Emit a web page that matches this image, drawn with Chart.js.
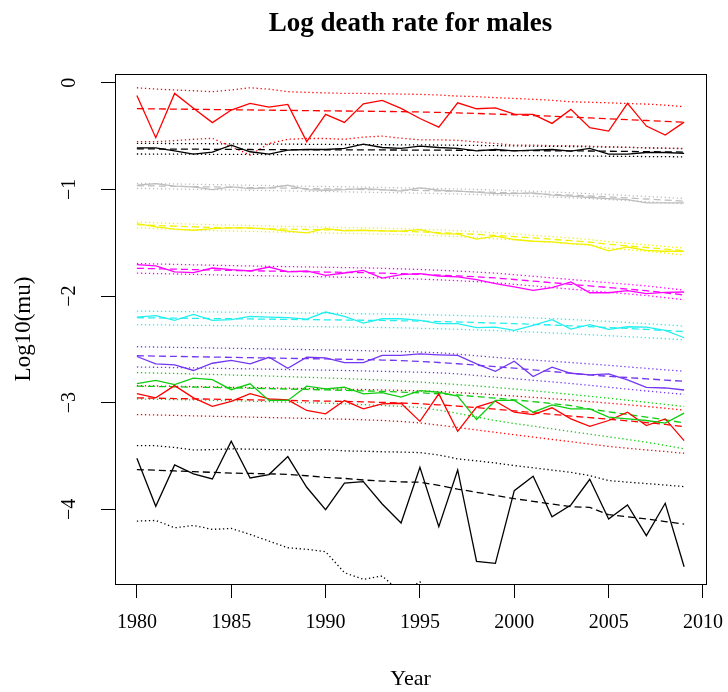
<!DOCTYPE html>
<html>
<head>
<meta charset="utf-8">
<title>Log death rate for males</title>
<script src="https://cdn.jsdelivr.net/npm/chart.js@4.4.0/dist/chart.umd.min.js"></script>
<style>
  html, body { margin: 0; padding: 0; background: #fff; }
  #chart { display: block; }
</style>
</head>
<body>
<canvas id="chart" width="728" height="692"></canvas>
<script>
'use strict';

/* --- Data --- */
const years = [1980, 1981, 1982, 1983, 1984, 1985, 1986, 1987, 1988, 1989,
  1990, 1991, 1992, 1993, 1994, 1995, 1996, 1997, 1998, 1999,
  2000, 2001, 2002, 2003, 2004, 2005, 2006, 2007, 2008, 2009];
const xTicks = [1980, 1985, 1990, 1995, 2000, 2005, 2010];
const yTicks = [0, -1, -2, -3, -4];

// top red group
const redTopObs = [-0.12, -0.515, -0.10, -0.24, -0.374, -0.256, -0.193, -0.228, -0.203, -0.552, -0.297, -0.372, -0.197, -0.165, -0.24, -0.335, -0.416, -0.188, -0.244, -0.235, -0.294, -0.297, -0.381, -0.25, -0.422, -0.453, -0.194, -0.406, -0.491, -0.369];
const redTopFit = [-0.243, -0.245, -0.247, -0.249, -0.251, -0.253, -0.255, -0.257, -0.259, -0.261, -0.263, -0.265, -0.267, -0.269, -0.271, -0.274, -0.278, -0.283, -0.288, -0.294, -0.300, -0.307, -0.314, -0.322, -0.330, -0.338, -0.346, -0.354, -0.362, -0.370];
const redTopHi = [-0.047, -0.059, -0.068, -0.075, -0.084, -0.068, -0.047, -0.06, -0.084, -0.09, -0.095, -0.10, -0.10, -0.103, -0.106, -0.109, -0.115, -0.125, -0.13, -0.14, -0.147, -0.155, -0.165, -0.178, -0.183, -0.188, -0.195, -0.20, -0.21, -0.225];
const redTopLo = [-0.552, -0.552, -0.543, -0.53, -0.521, -0.60, -0.677, -0.57, -0.53, -0.523, -0.523, -0.53, -0.51, -0.50, -0.52, -0.535, -0.535, -0.54, -0.555, -0.57, -0.585, -0.585, -0.59, -0.59, -0.595, -0.60, -0.605, -0.61, -0.615, -0.615];

// top black group
const blackTopObs = [-0.61, -0.61, -0.638, -0.67, -0.65, -0.585, -0.647, -0.67, -0.632, -0.626, -0.626, -0.616, -0.576, -0.607, -0.616, -0.594, -0.607, -0.616, -0.638, -0.626, -0.638, -0.632, -0.626, -0.641, -0.616, -0.67, -0.67, -0.654, -0.654, -0.663];
const blackTopFit = [-0.62, -0.621, -0.622, -0.623, -0.624, -0.625, -0.626, -0.627, -0.628, -0.628, -0.629, -0.629, -0.63, -0.63, -0.631, -0.631, -0.632, -0.633, -0.634, -0.635, -0.636, -0.637, -0.638, -0.639, -0.64, -0.642, -0.644, -0.646, -0.648, -0.65];
const blackTopHi = [-0.568, -0.569, -0.57, -0.571, -0.572, -0.573, -0.574, -0.575, -0.576, -0.577, -0.578, -0.579, -0.58, -0.581, -0.582, -0.583, -0.584, -0.586, -0.588, -0.59, -0.592, -0.594, -0.596, -0.598, -0.6, -0.603, -0.606, -0.61, -0.614, -0.618];
const blackTopLo = [-0.668, -0.669, -0.67, -0.67, -0.671, -0.672, -0.672, -0.673, -0.674, -0.674, -0.675, -0.676, -0.676, -0.677, -0.678, -0.678, -0.679, -0.68, -0.681, -0.682, -0.683, -0.684, -0.685, -0.686, -0.687, -0.689, -0.69, -0.692, -0.693, -0.695];

// gray group
const grayObs = [-0.961, -0.945, -0.97, -0.976, -1.002, -0.976, -0.992, -0.986, -0.961, -1.002, -1.008, -1.002, -0.992, -1.002, -1.017, -0.986, -1.008, -1.017, -1.026, -1.039, -1.039, -1.033, -1.054, -1.064, -1.076, -1.086, -1.095, -1.127, -1.127, -1.127];
const grayFit = [-0.965, -0.968, -0.971, -0.974, -0.977, -0.98, -0.983, -0.986, -0.989, -0.992, -0.995, -0.998, -1.001, -1.004, -1.007, -1.01, -1.014, -1.018, -1.023, -1.028, -1.034, -1.04, -1.047, -1.054, -1.062, -1.07, -1.08, -1.09, -1.10, -1.11];
const grayHi = [-0.943, -0.946, -0.949, -0.952, -0.955, -0.958, -0.961, -0.964, -0.967, -0.97, -0.973, -0.976, -0.979, -0.982, -0.985, -0.988, -0.992, -0.996, -1.001, -1.006, -1.012, -1.018, -1.025, -1.032, -1.04, -1.048, -1.057, -1.066, -1.075, -1.085];
const grayLo = [-0.99, -0.993, -0.996, -0.999, -1.002, -1.005, -1.008, -1.011, -1.014, -1.017, -1.02, -1.023, -1.026, -1.029, -1.032, -1.035, -1.039, -1.043, -1.048, -1.053, -1.059, -1.065, -1.072, -1.079, -1.087, -1.095, -1.105, -1.115, -1.125, -1.135];

// yellow group
const yellowObs = [-1.32, -1.351, -1.373, -1.383, -1.367, -1.361, -1.361, -1.373, -1.392, -1.408, -1.367, -1.389, -1.383, -1.389, -1.392, -1.377, -1.414, -1.42, -1.467, -1.439, -1.47, -1.486, -1.492, -1.508, -1.517, -1.577, -1.54, -1.571, -1.58, -1.58];
const yellowFit = [-1.33, -1.338, -1.345, -1.351, -1.356, -1.36, -1.364, -1.368, -1.372, -1.376, -1.379, -1.382, -1.385, -1.389, -1.393, -1.398, -1.405, -1.413, -1.422, -1.432, -1.443, -1.455, -1.468, -1.481, -1.495, -1.515, -1.53, -1.545, -1.56, -1.575];
const yellowHi = [-1.305, -1.313, -1.32, -1.326, -1.331, -1.335, -1.339, -1.343, -1.347, -1.351, -1.354, -1.357, -1.36, -1.364, -1.368, -1.373, -1.38, -1.388, -1.397, -1.407, -1.418, -1.43, -1.443, -1.456, -1.47, -1.49, -1.505, -1.52, -1.535, -1.55];
const yellowLo = [-1.36, -1.368, -1.375, -1.381, -1.386, -1.39, -1.394, -1.398, -1.402, -1.406, -1.409, -1.412, -1.415, -1.419, -1.423, -1.428, -1.435, -1.443, -1.452, -1.462, -1.473, -1.485, -1.498, -1.511, -1.525, -1.55, -1.565, -1.58, -1.597, -1.615];

// magenta group
const magentaObs = [-1.706, -1.718, -1.774, -1.781, -1.737, -1.753, -1.765, -1.728, -1.774, -1.765, -1.806, -1.784, -1.759, -1.831, -1.80, -1.79, -1.812, -1.821, -1.846, -1.884, -1.915, -1.947, -1.922, -1.868, -1.969, -1.969, -1.95, -1.978, -1.965, -1.962];
const magentaFit = [-1.74, -1.744, -1.748, -1.752, -1.756, -1.76, -1.763, -1.766, -1.769, -1.772, -1.775, -1.778, -1.781, -1.785, -1.79, -1.796, -1.803, -1.811, -1.82, -1.83, -1.845, -1.86, -1.875, -1.89, -1.905, -1.92, -1.935, -1.95, -1.97, -1.99];
const magentaHi = [-1.695, -1.699, -1.703, -1.707, -1.711, -1.715, -1.718, -1.721, -1.724, -1.727, -1.73, -1.733, -1.736, -1.74, -1.745, -1.751, -1.758, -1.766, -1.775, -1.785, -1.8, -1.815, -1.83, -1.845, -1.86, -1.875, -1.89, -1.905, -1.925, -1.945];
const magentaLo = [-1.785, -1.789, -1.793, -1.797, -1.801, -1.805, -1.808, -1.811, -1.814, -1.817, -1.82, -1.823, -1.826, -1.83, -1.835, -1.841, -1.848, -1.856, -1.865, -1.875, -1.89, -1.905, -1.92, -1.935, -1.95, -1.965, -1.98, -1.995, -2.015, -2.035];

// cyan group
const cyanObs = [-2.197, -2.184, -2.228, -2.172, -2.228, -2.222, -2.19, -2.197, -2.203, -2.216, -2.15, -2.19, -2.253, -2.213, -2.213, -2.228, -2.259, -2.259, -2.297, -2.291, -2.322, -2.275, -2.222, -2.31, -2.269, -2.313, -2.288, -2.291, -2.322, -2.391];
const cyanFit = [-2.203, -2.205, -2.207, -2.209, -2.211, -2.213, -2.215, -2.217, -2.219, -2.221, -2.223, -2.225, -2.227, -2.229, -2.232, -2.235, -2.239, -2.243, -2.248, -2.253, -2.259, -2.265, -2.272, -2.279, -2.287, -2.295, -2.304, -2.313, -2.323, -2.333];
const cyanHi = [-2.141, -2.143, -2.145, -2.147, -2.149, -2.151, -2.153, -2.155, -2.157, -2.159, -2.161, -2.163, -2.166, -2.168, -2.171, -2.174, -2.178, -2.182, -2.187, -2.192, -2.198, -2.205, -2.212, -2.22, -2.229, -2.238, -2.248, -2.259, -2.27, -2.282];
const cyanLo = [-2.268, -2.27, -2.272, -2.274, -2.276, -2.278, -2.28, -2.282, -2.284, -2.286, -2.288, -2.29, -2.293, -2.295, -2.298, -2.302, -2.307, -2.312, -2.318, -2.324, -2.331, -2.338, -2.346, -2.354, -2.363, -2.372, -2.381, -2.39, -2.4, -2.41];

// purple-blue group
const blueObs = [-2.567, -2.636, -2.645, -2.698, -2.63, -2.604, -2.636, -2.574, -2.677, -2.574, -2.58, -2.624, -2.624, -2.557, -2.557, -2.542, -2.551, -2.557, -2.636, -2.705, -2.611, -2.755, -2.667, -2.724, -2.74, -2.73, -2.787, -2.856, -2.862, -2.881];
const blueFit = [-2.56, -2.563, -2.566, -2.569, -2.572, -2.575, -2.578, -2.581, -2.584, -2.587, -2.59, -2.593, -2.596, -2.6, -2.605, -2.613, -2.623, -2.635, -2.648, -2.662, -2.676, -2.692, -2.708, -2.724, -2.74, -2.752, -2.764, -2.776, -2.788, -2.80];
const blueHi = [-2.475, -2.478, -2.481, -2.484, -2.487, -2.49, -2.493, -2.496, -2.499, -2.502, -2.505, -2.508, -2.512, -2.516, -2.52, -2.525, -2.532, -2.545, -2.56, -2.575, -2.588, -2.6, -2.612, -2.624, -2.636, -2.65, -2.664, -2.678, -2.692, -2.705];
const blueLo = [-2.665, -2.668, -2.671, -2.674, -2.677, -2.68, -2.683, -2.686, -2.689, -2.692, -2.695, -2.698, -2.702, -2.706, -2.71, -2.714, -2.72, -2.73, -2.745, -2.76, -2.775, -2.79, -2.805, -2.82, -2.837, -2.855, -2.873, -2.89, -2.906, -2.922];

// green group
const greenObs = [-2.822, -2.79, -2.831, -2.769, -2.784, -2.878, -2.823, -2.979, -2.979, -2.845, -2.87, -2.855, -2.917, -2.905, -2.948, -2.886, -2.902, -2.939, -3.158, -2.979, -2.979, -3.089, -3.02, -3.058, -3.058, -3.136, -3.152, -3.167, -3.192, -3.098];
const greenFit = [-2.845, -2.848, -2.851, -2.854, -2.857, -2.86, -2.864, -2.868, -2.872, -2.876, -2.88, -2.884, -2.889, -2.894, -2.9, -2.907, -2.916, -2.928, -2.942, -2.957, -2.973, -2.99, -3.008, -3.027, -3.06, -3.085, -3.11, -3.135, -3.16, -3.19];
const greenHi = [-2.718, -2.722, -2.726, -2.73, -2.735, -2.74, -2.745, -2.75, -2.756, -2.762, -2.768, -2.774, -2.781, -2.789, -2.798, -2.807, -2.818, -2.83, -2.843, -2.857, -2.872, -2.888, -2.905, -2.922, -2.94, -2.958, -2.977, -2.996, -3.016, -3.036];
const greenLo = [-2.965, -2.968, -2.971, -2.974, -2.978, -2.982, -2.986, -2.99, -2.995, -3.0, -3.005, -3.011, -3.018, -3.026, -3.034, -3.045, -3.07, -3.1, -3.135, -3.167, -3.195, -3.22, -3.245, -3.27, -3.295, -3.32, -3.345, -3.37, -3.4, -3.433];

// lower red group
const redLowObs = [-2.915, -2.955, -2.84, -2.955, -3.034, -2.987, -2.915, -2.964, -2.973, -3.073, -3.105, -2.98, -3.058, -3.011, -3.005, -3.175, -2.917, -3.268, -3.042, -2.986, -3.089, -3.111, -3.048, -3.152, -3.221, -3.167, -3.089, -3.214, -3.152, -3.355];
const redLowFit = [-2.955, -2.958, -2.961, -2.964, -2.967, -2.97, -2.973, -2.976, -2.979, -2.982, -2.985, -2.988, -2.992, -2.997, -3.003, -3.01, -3.02, -3.032, -3.046, -3.061, -3.077, -3.093, -3.109, -3.125, -3.14, -3.155, -3.17, -3.186, -3.204, -3.224];
const redLowHi = [-2.84, -2.843, -2.846, -2.849, -2.852, -2.855, -2.858, -2.861, -2.864, -2.867, -2.87, -2.873, -2.876, -2.88, -2.884, -2.889, -2.896, -2.905, -2.915, -2.926, -2.938, -2.95, -2.963, -2.976, -2.99, -3.004, -3.019, -3.035, -3.052, -3.07];
const redLowLo = [-3.111, -3.115, -3.119, -3.123, -3.127, -3.131, -3.135, -3.139, -3.143, -3.147, -3.151, -3.155, -3.16, -3.167, -3.176, -3.19, -3.21, -3.232, -3.255, -3.278, -3.3, -3.322, -3.344, -3.366, -3.388, -3.41, -3.427, -3.443, -3.458, -3.474];

// lower black group
const blackLowObs = [-3.521, -3.972, -3.584, -3.668, -3.715, -3.361, -3.706, -3.674, -3.505, -3.793, -4.003, -3.755, -3.74, -3.95, -4.128, -3.606, -4.163, -3.631, -4.488, -4.507, -3.825, -3.69, -4.069, -3.959, -3.718, -4.09, -3.959, -4.247, -3.943, -4.538];
const blackLowFit = [-3.627, -3.633, -3.64, -3.647, -3.653, -3.66, -3.663, -3.667, -3.672, -3.685, -3.70, -3.71, -3.725, -3.735, -3.742, -3.746, -3.775, -3.81, -3.84, -3.87, -3.90, -3.925, -3.95, -3.975, -3.981, -4.05, -4.07, -4.09, -4.115, -4.138];
const blackLowHi = [-3.402, -3.403, -3.42, -3.443, -3.44, -3.433, -3.435, -3.44, -3.443, -3.445, -3.44, -3.452, -3.455, -3.46, -3.463, -3.468, -3.49, -3.527, -3.545, -3.565, -3.59, -3.61, -3.632, -3.653, -3.684, -3.73, -3.745, -3.758, -3.772, -3.787];
const blackLowLo = [-4.11, -4.104, -4.173, -4.151, -4.188, -4.179, -4.235, -4.298, -4.36, -4.375, -4.397, -4.594, -4.656, -4.625, -4.78, -4.68, -4.85, -4.95, -5.05, -5.1, -5.15, -5.2, -5.25, -5.3, -5.35, -5.4, -5.45, -5.5, -5.55, -5.6];

const groups = [
  { color: '#ff0000', obs: redTopObs, fit: redTopFit, hi: redTopHi, lo: redTopLo },
  { color: '#000000', obs: blackTopObs, fit: blackTopFit, hi: blackTopHi, lo: blackTopLo },
  { color: '#bebebe', obs: grayObs, fit: grayFit, hi: grayHi, lo: grayLo },
  { color: '#f2f200', obs: yellowObs, fit: yellowFit, hi: yellowHi, lo: yellowLo },
  { color: '#ff00ff', obs: magentaObs, fit: magentaFit, hi: magentaHi, lo: magentaLo },
  { color: '#22f0f0', obs: cyanObs, fit: cyanFit, hi: cyanHi, lo: cyanLo },
  { color: '#7436f0', obs: blueObs, fit: blueFit, hi: blueHi, lo: blueLo },
  { color: '#10cc10', obs: greenObs, fit: greenFit, hi: greenHi, lo: greenLo },
  { color: '#ff0000', obs: redLowObs, fit: redLowFit, hi: redLowHi, lo: redLowLo },
  { color: '#000000', obs: blackLowObs, fit: blackLowFit, hi: blackLowHi, lo: blackLowLo }
];

const SERIF = '"Liberation Serif", "Times New Roman", serif';

/* --- Dataset builder --- */
function line(values, color, kind) {
  let dash = [];
  if (kind === 'fit') dash = [7, 4];
  if (kind === 'band') dash = [1.3, 2.7];
  return {
    data: years.map((yr, i) => ({ x: yr, y: values[i] })),
    borderColor: color,
    borderWidth: 1.3,
    borderDash: dash,
    pointRadius: 0,
    tension: 0,
    fill: false
  };
}

const datasets = [];
groups.forEach(g => datasets.push(line(g.obs, g.color, 'obs')));
groups.forEach(g => datasets.push(line(g.fit, g.color, 'fit')));
groups.forEach(g => {
  datasets.push(line(g.hi, g.color, 'band'));
  datasets.push(line(g.lo, g.color, 'band'));
});

/* --- Plot frame (R style box) --- */
const boxPlugin = {
  id: 'box',
  afterDraw(chart) {
    const { ctx, chartArea: a } = chart;
    ctx.save();
    ctx.strokeStyle = '#000';
    ctx.lineWidth = 1;
    ctx.strokeRect(a.left + 0.5, a.top + 0.5, a.right - a.left, a.bottom - a.top);
    ctx.restore();
  }
};

// keep the plot box fixed: no extra room for overhanging labels
function fixPad(s) {
  s.paddingLeft = 0;
  s.paddingRight = 0;
  s.paddingTop = 0;
  s.paddingBottom = 0;
}

new Chart(document.getElementById('chart'), {
  type: 'line',
  data: { datasets },
  options: {
    responsive: false,
    animation: false,
    devicePixelRatio: 1,
    layout: { padding: { top: 0, right: 22, bottom: 0, left: 0 } },
    plugins: {
      legend: { display: false },
      tooltip: { enabled: false },
      title: {
        display: true,
        fullSize: false,
        text: 'Log death rate for males',
        color: '#000',
        font: { family: SERIF, size: 27, weight: 'bold', lineHeight: 1.2 },
        padding: { top: 8, bottom: 33.6 }
      }
    },
    scales: {
      x: {
        type: 'linear',
        min: 1978.84,
        max: 2010.16,
        afterBuildTicks: s => { s.ticks = xTicks.map(v => ({ value: v })); },
        afterFit: s => { s.height = 108; fixPad(s); },
        border: { display: false },
        grid: { display: true, drawOnChartArea: false, drawTicks: true, tickLength: 14, color: '#000', lineWidth: 1 },
        ticks: {
          color: '#000',
          font: { family: SERIF, size: 20 },
          padding: 13,
          maxRotation: 0,
          autoSkip: false,
          callback: v => String(v)
        },
        title: {
          display: true,
          text: 'Year',
          color: '#000',
          font: { family: SERIF, size: 22 },
          padding: { top: 0, bottom: 0 }
        }
      },
      y: {
        type: 'linear',
        min: -4.70,
        max: 0.082,
        afterBuildTicks: s => { s.ticks = yTicks.map(v => ({ value: v })); },
        afterFit: s => { s.width = 115; fixPad(s); },
        border: { display: false },
        grid: { display: true, drawOnChartArea: false, drawTicks: true, tickLength: 14, color: '#000', lineWidth: 1 },
        ticks: {
          color: '#000',
          font: { family: SERIF, size: 20 },
          padding: 21,
          minRotation: 90,
          maxRotation: 90,
          crossAlign: 'center',
          autoSkip: false,
          callback: v => (v < 0 ? '\u2212' + Math.abs(v) : String(v))
        },
        title: {
          display: true,
          text: 'Log10(mu)',
          color: '#000',
          font: { family: SERIF, size: 23 },
          padding: { top: 10, bottom: 0 }
        }
      }
    }
  },
  plugins: [boxPlugin]
});
</script>
</body>
</html>
